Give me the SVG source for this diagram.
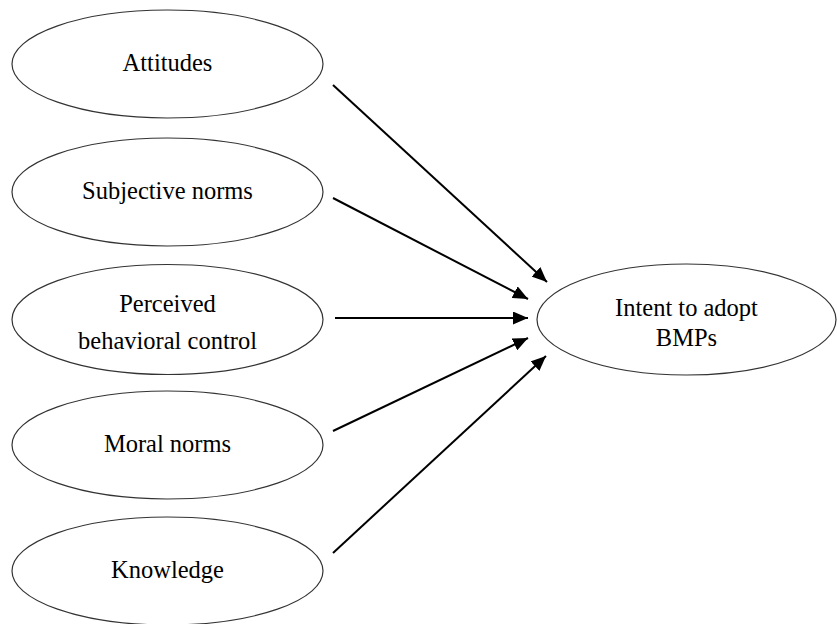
<svg xmlns="http://www.w3.org/2000/svg" width="837" height="624" viewBox="0 0 837 624">
<defs>
<marker id="ah" viewBox="0 0 10 10" refX="10" refY="5" markerWidth="15" markerHeight="13" markerUnits="userSpaceOnUse" orient="auto" preserveAspectRatio="none">
<path d="M0,0 L10,5 L0,10 z" fill="#000"/>
</marker>
<style>
.n ellipse{fill:#fff;stroke:#333;stroke-width:1.2}
.n text{font-family:"Liberation Serif","Times New Roman",serif;font-size:24.5px;fill:#000;text-anchor:middle}
.c line{stroke:#000;stroke-width:2;marker-end:url(#ah)}
</style>
</defs>
<rect width="837" height="624" fill="#fff"/>
<g class="c" id="connectors">
<line x1="333" y1="85" x2="547" y2="282"/>
<line x1="333" y1="198" x2="528" y2="299"/>
<line x1="335" y1="318" x2="528" y2="318"/>
<line x1="333" y1="431" x2="528" y2="338"/>
<line x1="333" y1="553" x2="546" y2="356"/>
</g>
<g class="n" id="attitudes"><ellipse cx="167.5" cy="64" rx="155.5" ry="54"/><text x="167.5" y="71">Attitudes</text></g>
<g class="n" id="subjective"><ellipse cx="167.5" cy="192" rx="155.5" ry="54"/><text x="167.5" y="199">Subjective norms</text></g>
<g class="n" id="pbc"><ellipse cx="167.5" cy="319.5" rx="155.5" ry="55"/><text x="167.5" y="312">Perceived</text><text x="167.5" y="349">behavioral control</text></g>
<g class="n" id="moral"><ellipse cx="167.5" cy="445" rx="155.5" ry="54"/><text x="167.5" y="452">Moral norms</text></g>
<g class="n" id="knowledge"><ellipse cx="167.5" cy="571" rx="155.5" ry="54"/><text x="167.5" y="578">Knowledge</text></g>
<g class="n" id="intent"><ellipse cx="686.5" cy="319.5" rx="149.5" ry="55.5"/><text x="686.5" y="316">Intent to adopt</text><text x="686.5" y="346">BMPs</text></g>
</svg>
